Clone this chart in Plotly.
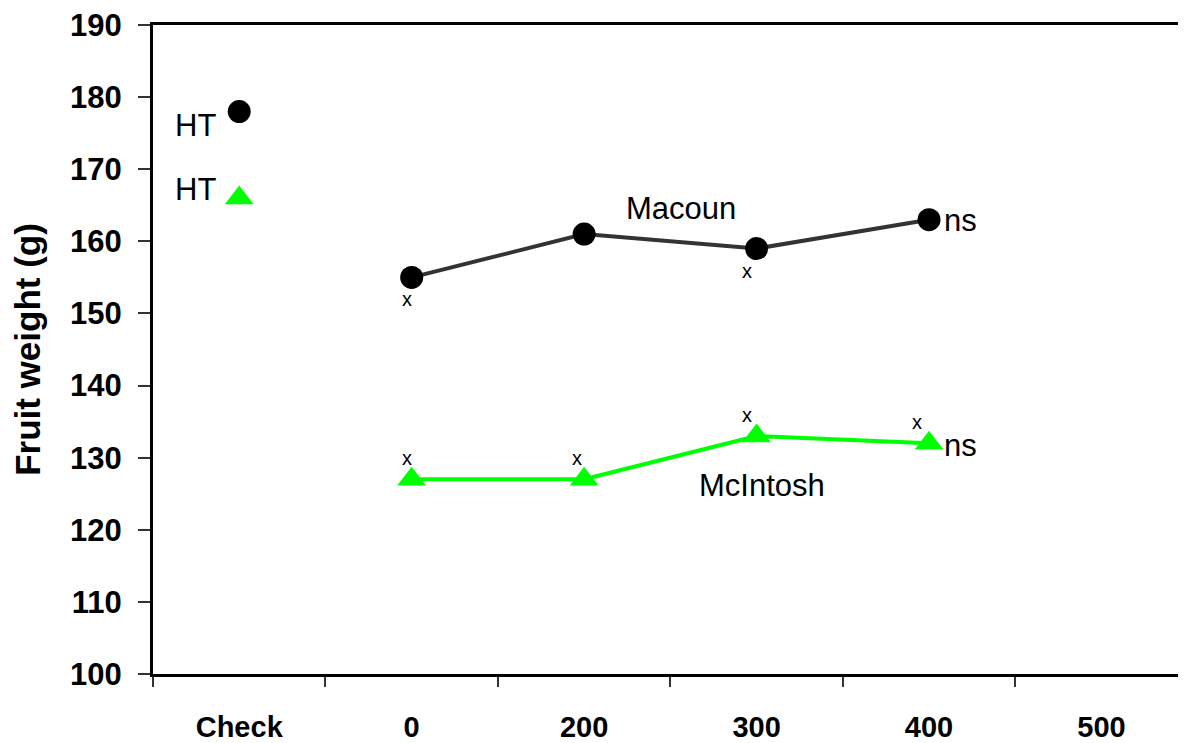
import plotly.graph_objects as go

# ---- data ----
categories = ["Check", "0", "200", "300", "400", "500"]
rates = ["0", "200", "300", "400"]
macoun_weight = [155, 161, 159, 163]
mcintosh_weight = [127, 127, 133, 132]
macoun_check = 178
mcintosh_check = 166
macoun_sig = ["x", "", "x", ""]
mcintosh_sig = ["x", "x", "x", "x"]
y_ticks = [100, 110, 120, 130, 140, 150, 160, 170, 180, 190]

BLACK = "#000000"
DARK = "#333333"
GREEN = "#00ff00"
FONT = "Liberation Sans, Arial, sans-serif"

# category index positions (annotations on a category axis need numeric index,
# because labels such as "0" would otherwise be read as numbers)
idx = {c: i for i, c in enumerate(categories)}

fig = go.Figure()

fig.add_trace(go.Scatter(
    x=rates, y=macoun_weight, mode="lines+markers",
    line=dict(color=DARK, width=4),
    marker=dict(symbol="circle", size=23, color=BLACK),
    name="Macoun", showlegend=False, cliponaxis=False))
fig.add_trace(go.Scatter(
    x=rates, y=mcintosh_weight, mode="lines+markers",
    line=dict(color=GREEN, width=4),
    marker=dict(symbol="triangle-up", size=25, color=GREEN),
    name="McIntosh", showlegend=False, cliponaxis=False))
fig.add_trace(go.Scatter(
    x=["Check"], y=[macoun_check], mode="markers",
    marker=dict(symbol="circle", size=23, color=BLACK),
    showlegend=False, cliponaxis=False))
fig.add_trace(go.Scatter(
    x=["Check"], y=[mcintosh_check], mode="markers",
    marker=dict(symbol="triangle-up", size=25, color=GREEN),
    showlegend=False, cliponaxis=False))

ann_font = dict(family=FONT, size=31, color=BLACK)
small_font = dict(family=FONT, size=20, color=BLACK)

fig.add_annotation(x=idx["Check"], y=macoun_check, text="HT", showarrow=False,
                   xanchor="right", xshift=-21, yshift=-14, font=ann_font)
fig.add_annotation(x=idx["Check"], y=mcintosh_check, text="HT", showarrow=False,
                   xanchor="right", xshift=-21, yshift=9, font=ann_font)

fig.add_annotation(x=2.56, y=164.5, text="Macoun", showarrow=False, font=ann_font)
fig.add_annotation(x=3.03, y=126.2, text="McIntosh", showarrow=False, font=ann_font)

fig.add_annotation(x=idx[rates[-1]], y=macoun_weight[-1], text="ns", showarrow=False,
                   xanchor="left", xshift=13, yshift=-1, font=ann_font)
fig.add_annotation(x=idx[rates[-1]], y=mcintosh_weight[-1], text="ns", showarrow=False,
                   xanchor="left", xshift=13, yshift=-2, font=ann_font)

mac_dx = [-5, 0, -10, 0]
for r, v, s, dx in zip(rates, macoun_weight, macoun_sig, mac_dx):
    if s:
        fig.add_annotation(x=idx[r], y=v, text=s, showarrow=False,
                           xshift=dx, yshift=-22, font=small_font)
mci_dx = [-5, -7, -10, -12]
for r, v, s, dx in zip(rates, mcintosh_weight, mcintosh_sig, mci_dx):
    if s:
        fig.add_annotation(x=idx[r], y=v, text=s, showarrow=False,
                           xshift=dx, yshift=21, font=small_font)

fig.update_layout(
    width=1178, height=735,
    margin=dict(l=145, r=0, t=15, b=64),
    paper_bgcolor="white", plot_bgcolor="white",
    font=dict(family=FONT, color=BLACK),
    showlegend=False,
    xaxis=dict(
        type="category", categoryorder="array", categoryarray=categories,
        tickvals=categories, ticktext=categories,
        range=[-0.5, 5.49],
        tickson="boundaries",
        ticks="outside", ticklen=10, tickwidth=2, tickcolor=DARK,
        showline=True, linecolor=BLACK, linewidth=3, mirror=True,
        showgrid=False, zeroline=False,
        tickfont=dict(family=FONT, size=29, color=BLACK, weight="bold"),
        ticklabelstandoff=25,
        ticklabeloverflow="allow",
    ),
    yaxis=dict(
        range=[100, 190], tickvals=y_ticks,
        ticks="outside", ticklen=12, tickwidth=2, tickcolor=DARK,
        showline=True, linecolor=BLACK, linewidth=3,
        showgrid=False, zeroline=False,
        tickfont=dict(family=FONT, size=31, color=BLACK, weight="bold"),
        ticklabelstandoff=10,
        ticklabeloverflow="allow",
        title=dict(text="Fruit weight (g)", standoff=25,
                   font=dict(family=FONT, size=35, color=BLACK, weight="bold")),
    ),
)

fig.write_html("out.html")
